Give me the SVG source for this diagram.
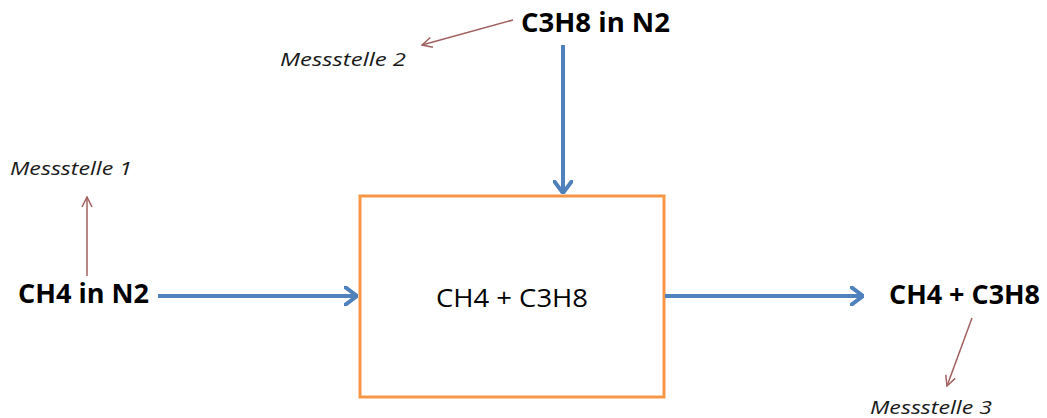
<svg xmlns="http://www.w3.org/2000/svg" width="1047" height="418" viewBox="0 0 1047 418">
<style>
.lbl{font-family:"Open Sans","Liberation Sans",sans-serif;font-weight:bold;font-size:26px;fill:#000}
.mess{font-family:"Open Sans","Liberation Sans",sans-serif;font-style:italic;font-size:18px;fill:#1a1a1a}
.box{fill:#fff;stroke:#F79646;stroke-width:3}
.boxt{font-family:"Open Sans","Liberation Sans",sans-serif;font-size:26px;fill:#000}
.flow{stroke:#4F81BD;stroke-width:4;fill:none}
.meas{stroke:#A0605F;stroke-width:1.5;fill:none}
</style>
<defs>
<marker id="bh" viewBox="0 0 14 20" refX="13" refY="10" markerWidth="14" markerHeight="20" markerUnits="userSpaceOnUse" orient="auto">
<path d="M1,1 L13,10 L1,19" fill="none" stroke="#4F81BD" stroke-width="4" stroke-linecap="round" stroke-linejoin="round"/>
</marker>
<marker id="rh" viewBox="0 0 12 12" refX="11" refY="6" markerWidth="12" markerHeight="12" markerUnits="userSpaceOnUse" orient="auto">
<path d="M1,1 L11,6 L1,11" fill="none" stroke="#A0605F" stroke-width="1.5"/>
</marker>
</defs>
<g id="mixer">
<rect class="box" x="360" y="196" width="304" height="201"/>
<text class="boxt" x="512" y="307" text-anchor="middle" textLength="152" lengthAdjust="spacingAndGlyphs">CH4 + C3H8</text>
</g>
<g id="in1"><text class="lbl" x="18" y="303" textLength="131" lengthAdjust="spacingAndGlyphs">CH4 in N2</text></g>
<g id="in2"><text class="lbl" x="521" y="32" textLength="149" lengthAdjust="spacingAndGlyphs">C3H8 in N2</text></g>
<g id="out"><text class="lbl" x="889" y="304" textLength="151" lengthAdjust="spacingAndGlyphs">CH4 + C3H8</text></g>
<g id="m1"><text class="mess" x="10" y="175" textLength="122" lengthAdjust="spacingAndGlyphs">Messstelle 1</text></g>
<g id="m2"><text class="mess" x="280" y="66" textLength="126" lengthAdjust="spacingAndGlyphs">Messstelle 2</text></g>
<g id="m3"><text class="mess" x="870" y="414" textLength="122" lengthAdjust="spacingAndGlyphs">Messstelle 3</text></g>
<g id="connectors">
<line class="flow" x1="158" y1="296" x2="357" y2="296" marker-end="url(#bh)"/>
<line class="flow" x1="563" y1="45" x2="563" y2="193" marker-end="url(#bh)"/>
<line class="flow" x1="665" y1="296" x2="863" y2="296" marker-end="url(#bh)"/>
<line class="meas" x1="87" y1="276" x2="87" y2="197" marker-end="url(#rh)"/>
<line class="meas" x1="513" y1="20" x2="422" y2="45" marker-end="url(#rh)"/>
<line class="meas" x1="972" y1="318" x2="947" y2="386" marker-end="url(#rh)"/>
</g>
</svg>
